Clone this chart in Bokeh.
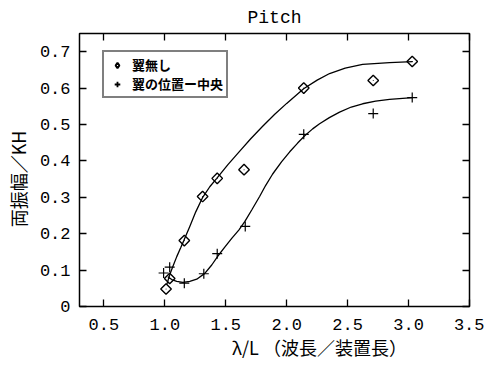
import math
from bokeh.plotting import figure
from bokeh.models import LinearAxis, FixedTicker, Legend, LegendItem
from bokeh.embed import file_html
from bokeh.resources import INLINE

# --- data ---
diamond_x = [1.01, 1.04, 1.16, 1.31, 1.43, 1.65, 2.14, 2.71, 3.03]
diamond_y = [0.048, 0.077, 0.181, 0.302, 0.352, 0.376, 0.600, 0.621, 0.673]
cross_x = [0.99, 1.04, 1.16, 1.32, 1.43, 1.66, 2.14, 2.71, 3.03]
cross_y = [0.092, 0.108, 0.064, 0.090, 0.145, 0.220, 0.473, 0.530, 0.574]

# fitted curves
fit1_x = [1.016, 1.041, 1.066, 1.098, 1.131, 1.156, 1.205, 1.254, 1.311, 1.369, 1.426,
          1.516, 1.615, 1.705, 1.803, 1.902, 2.000, 2.139, 2.250, 2.352, 2.480, 2.623,
          2.844, 3.033]
fit1_y = [0.060, 0.088, 0.110, 0.137, 0.162, 0.181, 0.220, 0.260, 0.300, 0.329, 0.352,
          0.389, 0.427, 0.461, 0.495, 0.528, 0.558, 0.598, 0.622, 0.640, 0.655, 0.665,
          0.670, 0.673]
fit2_x = [1.025, 1.057, 1.098, 1.148, 1.205, 1.262, 1.328, 1.385, 1.434, 1.492, 1.549,
          1.607, 1.656, 1.713, 1.779, 1.828, 1.885, 1.959, 2.025, 2.090, 2.148, 2.213,
          2.270, 2.350, 2.434, 2.530, 2.623, 2.730, 2.844, 3.033]
fit2_y = [0.082, 0.074, 0.069, 0.066, 0.069, 0.075, 0.091, 0.114, 0.138, 0.163, 0.187,
          0.210, 0.233, 0.265, 0.303, 0.333, 0.364, 0.398, 0.425, 0.449, 0.469, 0.488,
          0.502, 0.519, 0.534, 0.548, 0.557, 0.564, 0.569, 0.574]

x_ticks = [0.5, 1.0, 1.5, 2.0, 2.5, 3.0, 3.5]
x_tick_labels = ["0.5", "1.0", "1.5", "2.0", "2.5", "3.0", "3.5"]
y_ticks = [0, 0.1, 0.2, 0.3, 0.4, 0.5, 0.6, 0.7]
y_tick_labels = ["0", "0.1", "0.2", "0.3", "0.4", "0.5", "0.6", "0.7"]

title_text = "Pitch"
x_label = "λ/L （波長／装置長）"
y_label = "両振幅／KH"
legend_labels = ["翼無し", "翼の位置ー中央"]

MONO = "Liberation Mono"
JP = "Noto Sans CJK JP"
PAD = "\u3000"  # ideographic space, used only to shift the axis titles as in the reference

p = figure(width=484, height=363, x_range=(0.3, 3.5), y_range=(0, 0.75),
           output_backend="svg", toolbar_location=None,
           min_border_left=79, min_border_right=15, min_border_top=33, min_border_bottom=57)

p.title.text = title_text
p.title.align = "center"
p.title.text_font = MONO
p.title.text_font_size = "18px"
p.title.text_font_style = "normal"
p.title.text_color = "black"
p.title.standoff = 11

p.grid.visible = False
p.outline_line_color = "black"
p.outline_line_width = 1.5
p.background_fill_color = "white"
p.border_fill_color = "white"

xa = p.xaxis[0]
ya = p.yaxis[0]

def style_axis(ax, ticks, labels, show_labels):
    ax.ticker = FixedTicker(ticks=ticks)
    if show_labels:
        ax.major_label_overrides = {t: l for t, l in zip(ticks, labels)}
    else:
        ax.major_label_overrides = {t: "" for t in ticks}
    ax.major_tick_in = 7
    ax.major_tick_out = 0
    ax.major_tick_line_width = 1.3
    ax.major_tick_line_color = "black"
    ax.minor_tick_line_color = None
    ax.axis_line_color = None
    ax.major_label_text_font = MONO
    ax.major_label_text_color = "black"
    ax.major_label_text_font_size = "17px" if show_labels else "1px"

style_axis(xa, x_ticks, x_tick_labels, True)
style_axis(ya, y_ticks, y_tick_labels, True)
xa.major_label_standoff = 12
ya.major_label_standoff = 9

xa.axis_label = PAD * 5 + x_label
ya.axis_label = y_label + PAD
for ax in (xa, ya):
    ax.axis_label_text_font = JP
    ax.axis_label_text_font_size = "18px"
    ax.axis_label_text_font_style = "normal"
    ax.axis_label_text_color = "black"
xa.axis_label_standoff = 1
ya.axis_label_standoff = 6

top_ax = LinearAxis()
style_axis(top_ax, x_ticks, x_tick_labels, False)
top_ax.major_label_standoff = 0
p.add_layout(top_ax, "above")
right_ax = LinearAxis()
style_axis(right_ax, y_ticks, y_tick_labels, False)
right_ax.major_label_standoff = 0
p.add_layout(right_ax, "right")

p.line(fit1_x, fit1_y, line_color="black", line_width=1.3)
p.line(fit2_x, fit2_y, line_color="black", line_width=1.3)
p.scatter(diamond_x, diamond_y, marker="square", angle=math.pi / 4, size=7.5,
          fill_color=None, line_color="black", line_width=1.4)
p.scatter(diamond_x, diamond_y, marker="dot", size=4, line_color="black", fill_color="black")
p.scatter(cross_x, cross_y, marker="cross", size=10, line_color="black", line_width=1.2)

# hidden renderers that only supply the legend glyphs
lg1 = p.scatter(diamond_x, diamond_y, marker="diamond", size=11, fill_color=None,
                line_color="black", line_width=2, visible=False)
lg2 = p.scatter(cross_x, cross_y, marker="cross", size=11, line_color="black",
                line_width=1.8, visible=False)

legend = Legend(items=[LegendItem(label=legend_labels[0], renderers=[lg1]),
                       LegendItem(label=legend_labels[1], renderers=[lg2])],
                location=(23, 208))
legend.label_text_font = JP
legend.label_text_font_size = "13px"
legend.label_text_font_style = "bold"
legend.label_text_color = "black"
legend.border_line_color = "black"
legend.border_line_width = 2
legend.background_fill_color = "white"
legend.background_fill_alpha = 1
legend.inactive_fill_alpha = 0
legend.glyph_width = 20
legend.glyph_height = 14
legend.label_height = 14
legend.spacing = 0
legend.padding = 3
legend.margin = 0
legend.label_standoff = 5
p.add_layout(legend, "center")

open("out.html", "w").write(file_html(p, INLINE))
